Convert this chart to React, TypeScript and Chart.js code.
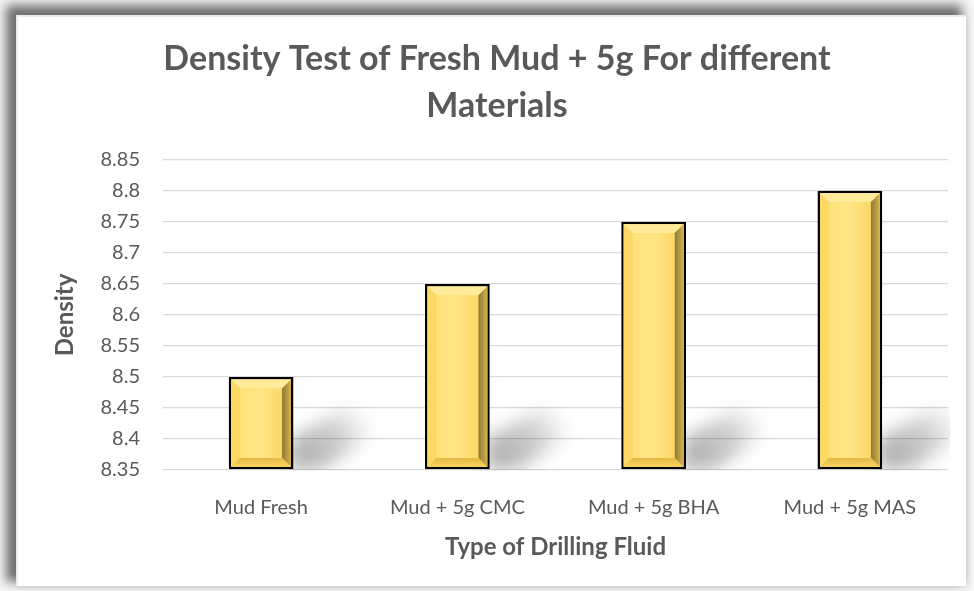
import React, { useEffect, useRef } from "react";
import { Chart, registerables } from "chart.js";

Chart.register(...registerables);

const categories = ["Mud Fresh", "Mud + 5g CMC", "Mud + 5g BHA", "Mud + 5g MAS"];
const densityValues = [8.5, 8.65, 8.75, 8.8];
const yMin = 8.35;
const yMax = 8.85;
const yStep = 0.05;
const titleLines = ["Density Test of Fresh Mud + 5g For different", "Materials"];
const xTitle = "Type of Drilling Fluid";
const yTitle = "Density";

const FONT = "Lato, 'Open Sans', sans-serif";
const GRAY = "#595959";

const shadowPlugin = {
  id: "barShadow",
  beforeDatasetsDraw(chart: any) {
    const ctx = chart.ctx;
    const meta = chart.getDatasetMeta(0);
    const area = chart.chartArea;
    ctx.save();
    ctx.beginPath();
    ctx.rect(area.left, area.top - 5, area.right - area.left + 2, area.bottom - area.top + 5);
    ctx.clip();
    ctx.filter = "blur(9px)";
    meta.data.forEach((el: any) => {
      const p = el.getProps(["x", "y", "base", "width"], true);
      const r = p.x + p.width / 2;
      const b = Math.min(p.base, area.bottom);
      const g = ctx.createLinearGradient(r, b, r + 75, b - 50);
      g.addColorStop(0, "rgba(0,0,0,0.34)");
      g.addColorStop(0.6, "rgba(0,0,0,0.2)");
      g.addColorStop(1, "rgba(0,0,0,0.0)");
      ctx.fillStyle = g;
      ctx.beginPath();
      ctx.moveTo(r - 4, b);
      ctx.lineTo(r - 4, b - 30);
      ctx.lineTo(r + 72, b - 72);
      ctx.lineTo(r + 80, b - 35);
      ctx.lineTo(r + 30, b);
      ctx.closePath();
      ctx.fill();
    });
    ctx.restore();
  },
};

const bevelPlugin = {
  id: "barBevel",
  afterDatasetsDraw(chart: any) {
    const ctx = chart.ctx;
    const meta = chart.getDatasetMeta(0);
    const area = chart.chartArea;
    meta.data.forEach((el: any) => {
      const p = el.getProps(["x", "y", "base", "width"], true);
      const bw = 2.5;
      const l = p.x - p.width / 2 + bw;
      const r = p.x + p.width / 2 - bw;
      const t = p.y + bw;
      const b = Math.min(p.base, area.bottom) - bw;
      const bv = 9;
      const quad = (pts: number[][], fill: any) => {
        ctx.beginPath();
        ctx.moveTo(pts[0][0], pts[0][1]);
        for (let i = 1; i < pts.length; i++) ctx.lineTo(pts[i][0], pts[i][1]);
        ctx.closePath();
        ctx.fillStyle = fill;
        ctx.fill();
      };
      ctx.save();
      quad([[l, t], [l + bv, t + bv], [l + bv, b - bv], [l, b]], "#FCD865");
      quad([[l, t], [r, t], [r - bv, t + bv], [l + bv, t + bv]], "#FFEB9A");
      const gr = ctx.createLinearGradient(r - bv, 0, r, 0);
      gr.addColorStop(0, "#8F7A34");
      gr.addColorStop(1, "#D4B24A");
      quad([[r, t], [r, b], [r - bv, b - bv], [r - bv, t + bv]], gr);
      const gb = ctx.createLinearGradient(0, b - bv, 0, b);
      gb.addColorStop(0, "#E3B845");
      gb.addColorStop(1, "#F9D35E");
      quad([[l, b], [l + bv, b - bv], [r - bv, b - bv], [r, b]], gb);
      const gf = ctx.createLinearGradient(l + bv, 0, r - bv, 0);
      gf.addColorStop(0, "#FFE27A");
      gf.addColorStop(0.5, "#FFE585");
      gf.addColorStop(1, "#FBD768");
      ctx.fillStyle = gf;
      ctx.fillRect(l + bv, t + bv, r - l - 2 * bv, b - t - 2 * bv);
      ctx.restore();
    });
  },
};

export default function App() {
  const ref = useRef<HTMLCanvasElement | null>(null);

  useEffect(() => {
    document.body.style.margin = "0";
    if (!ref.current) return;
    const chart = new Chart(ref.current, {
      type: "bar",
      data: {
        labels: categories,
        datasets: [
          {
            data: densityValues,
            base: yMin,
            backgroundColor: "#FFD966",
            borderColor: "#000000",
            borderWidth: 2.5,
            borderSkipped: false,
            barPercentage: 1,
            categoryPercentage: 0.33,
          },
        ],
      },
      options: {
        animation: false,
        responsive: false,
        maintainAspectRatio: false,
        layout: { padding: { left: 46, right: 26, top: 0, bottom: 20 } },
        plugins: {
          legend: { display: false },
          tooltip: { enabled: false },
          title: {
            display: true,
            text: titleLines,
            color: GRAY,
            font: { family: FONT, size: 34, weight: "bold", lineHeight: 1.38 },
            padding: { top: 36, bottom: 30 },
          },
        },
        scales: {
          x: {
            grid: { display: false, drawTicks: false },
            border: { display: false },
            ticks: {
              color: GRAY,
              font: { family: FONT, size: 20 },
              padding: 26,
            },
            title: {
              display: true,
              text: xTitle,
              color: GRAY,
              font: { family: FONT, size: 24, weight: "bold" },
              padding: { top: 0, bottom: 9 },
            },
            afterFit(scale: any) {
              scale.height = 101;
            },
          },
          y: {
            min: yMin,
            max: yMax,
            grid: { color: "#D9D9D9", lineWidth: 1.3, drawTicks: false },
            border: { display: false },
            ticks: {
              stepSize: yStep,
              color: GRAY,
              font: { family: FONT, size: 20 },
              padding: 23,
              callback: (v: any) => String(Number(Number(v).toFixed(2))),
            },
            title: {
              display: true,
              text: yTitle,
              color: GRAY,
              font: { family: FONT, size: 24, weight: "bold" },
              padding: { top: 5, bottom: 0 },
            },
            afterFit(scale: any) {
              scale.width = 117;
            },
          },
        },
      },
      plugins: [shadowPlugin, bevelPlugin],
    } as any);
    return () => chart.destroy();
  }, []);

  return (
    <div style={{ position: "relative", width: 974, height: 591, overflow: "hidden", background: "#f6f6f6" }}>
      <div
        style={{
          position: "absolute",
          left: 16,
          top: 15,
          width: 950,
          height: 571,
          background: "#ffffff",
          boxShadow: "-7px -7px 10px 3px rgba(0,0,0,0.55), 3px 3px 6px rgba(0,0,0,0.05)",
          borderLeft: "2px solid #ececec",
          borderTop: "2px solid #ececec",
          boxSizing: "border-box",
        }}
      />
      <canvas ref={ref} width={974} height={591} style={{ position: "absolute", left: 0, top: 0 }} />
    </div>
  );
}
